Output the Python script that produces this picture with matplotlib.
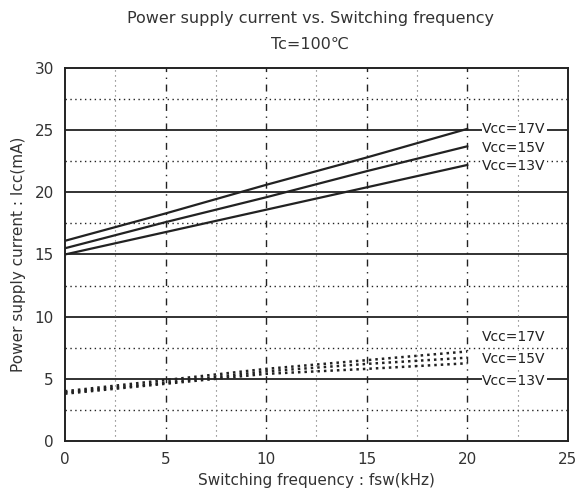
import matplotlib.pyplot as plt
import numpy as np

# data
freq = [0, 5, 10, 15, 20]
vcc_labels = ['Vcc=17V', 'Vcc=15V', 'Vcc=13V']
# Tc=100C, upper set (solid)
icc_upper = {
    'Vcc=17V': [16.1, 18.3, 20.6, 22.8, 25.1],
    'Vcc=15V': [15.5, 17.6, 19.6, 21.7, 23.7],
    'Vcc=13V': [15.0, 16.8, 18.6, 20.4, 22.2],
}
# lower set (dotted)
icc_lower = {
    'Vcc=17V': [4.0, 4.9, 5.8, 6.5, 7.2],
    'Vcc=15V': [3.9, 4.7, 5.6, 6.2, 6.7],
    'Vcc=13V': [3.8, 4.6, 5.4, 5.8, 6.25],
}
upper_label_y = [25.1, 23.6, 22.1]
lower_label_y = [8.4, 6.6, 4.8]
label_x = 20.75

ink = '#222222'
fig = plt.figure(figsize=(5.8, 4.98), dpi=100)
ax = fig.add_axes([0.112, 0.1145, 0.867, 0.749])

# grid: solid major horizontals, dotted minor ones
for y in [5, 10, 15, 20, 25]:
    ax.axhline(y, color=ink, lw=1.3, zorder=1)
for y in np.arange(2.5, 30, 5):
    ax.axhline(y, color=ink, lw=1.0, ls=(0, (1, 2.5)), zorder=1)
for x in [5, 10, 15, 20]:
    ax.axvline(x, color=ink, lw=1.0, ls=(0, (5, 4, 1, 4)), zorder=1)
for x in np.arange(2.5, 25, 5):
    ax.axvline(x, color='#666666', lw=0.8, ls=(0, (1, 3.5)), zorder=1)

for name in vcc_labels:
    ax.plot(freq, icc_upper[name], color=ink, lw=1.6, zorder=3)
    ax.plot(freq, icc_lower[name], color=ink, lw=1.8, ls=(0, (1, 1.6)), zorder=3)

for name, y in zip(vcc_labels, upper_label_y):
    ax.text(label_x, y, name, fontsize=10, color=ink, va='center', ha='left',
            bbox=dict(facecolor='white', edgecolor='none', pad=0.5), zorder=4)
for name, y in zip(vcc_labels, lower_label_y):
    ax.text(label_x, y, name, fontsize=10, color=ink, va='center', ha='left',
            bbox=dict(facecolor='white', edgecolor='none', pad=0.5), zorder=4)

ax.set_xlim(0, 25)
ax.set_ylim(0, 30)
ax.set_xticks([0, 5, 10, 15, 20, 25])
ax.set_yticks([0, 5, 10, 15, 20, 25, 30])
ax.tick_params(length=0, labelsize=11, labelcolor='#333333', pad=8)
for s in ax.spines.values():
    s.set_color(ink)
    s.set_linewidth(1.4)

ax.set_xlabel('Switching frequency : fsw(kHz)', fontsize=11, color='#333333', labelpad=4)
ax.set_ylabel('Power supply current : Icc(mA)', fontsize=11, color='#333333', labelpad=6)
fig.text(0.535, 0.962, 'Power supply current vs. Switching frequency', ha='center', va='center',
         fontsize=11.5, color='#333333')
fig.text(0.535, 0.91, 'Tc=100℃', ha='center', va='center', fontsize=11.5, color='#333333')

fig.savefig('out.png', dpi=100)
